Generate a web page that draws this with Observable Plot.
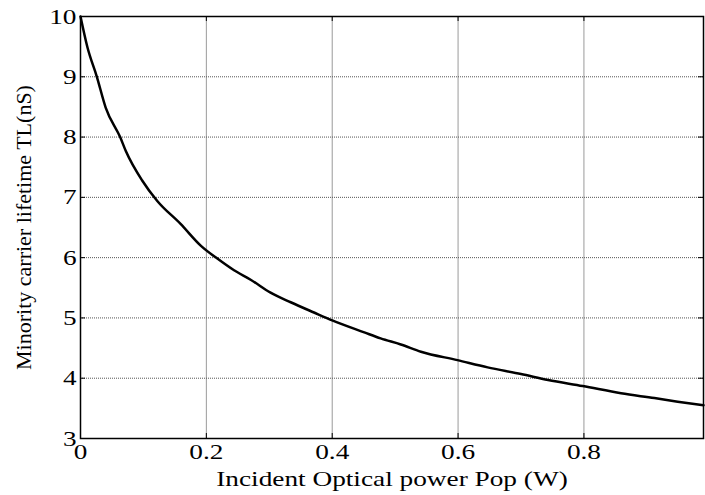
<!DOCTYPE html>
<html>
<head>
<meta charset="utf-8">
<script src="https://cdn.jsdelivr.net/npm/d3@7"></script>
<script src="https://cdn.jsdelivr.net/npm/@observablehq/plot@0.6"></script>
<style>
  html, body { margin: 0; padding: 0; background: white; }
</style>
</head>
<body>
<div id="chart"></div>
<script>
// Incident optical power (W) and minority carrier lifetime (nS)
const power = [0, 0.011, 0.026, 0.040, 0.063, 0.072, 0.098, 0.122, 0.159, 0.191, 0.218, 0.244, 0.271, 0.302, 0.334, 0.371, 0.400, 0.451, 0.477, 0.509, 0.541, 0.599, 0.647, 0.700, 0.743, 0.798, 0.859, 0.912, 0.949, 0.99];
const lifetime = [10, 9.49, 9.0, 8.49, 8.0, 7.77, 7.28, 6.94, 6.56, 6.20, 5.98, 5.79, 5.63, 5.42, 5.26, 5.09, 4.96, 4.76, 4.66, 4.56, 4.44, 4.30, 4.18, 4.07, 3.97, 3.87, 3.75, 3.67, 3.61, 3.55];

const xTicks = [0, 0.2, 0.4, 0.6, 0.8];
const yTicks = [3, 4, 5, 6, 7, 8, 9, 10];
const xLabel = "Incident Optical power Pop (W)";
const yLabel = "Minority carrier lifetime TL(nS)";

const data = power.map((p, i) => ({p, t: lifetime[i]}));

const W = 705, H = 495, mL = 80, mR = 2, mT = 16, mB = 57;
const innerW = W - mL - mR, innerH = H - mT - mB;
const tickLen = 5;
const font = "'Liberation Serif', 'Times New Roman', serif";
const fs = 22;

const chart = Plot.plot({
  width: W,
  height: H,
  marginLeft: mL,
  marginRight: mR,
  marginTop: mT,
  marginBottom: mB,
  style: {fontFamily: font, fontSize: fs + "px", color: "black", background: "white", overflow: "visible"},
  x: {domain: [0, 0.99], label: null},
  y: {domain: [3, 10], label: null},
  marks: [
    // grid
    Plot.gridX(xTicks.slice(1), {stroke: "#9a9a9a", strokeOpacity: 1, strokeWidth: 1}),
    Plot.gridY(yTicks.slice(1, -1), {stroke: "#555", strokeOpacity: 1, strokeWidth: 1, strokeDasharray: "1,1"}),
    // inward ticks on all four sides
    Plot.tickX(xTicks, {x: d => d, insetTop: innerH - tickLen, stroke: "black"}),
    Plot.tickX(xTicks, {x: d => d, insetBottom: innerH - tickLen, stroke: "black"}),
    Plot.tickY(yTicks, {y: d => d, insetRight: innerW - tickLen, stroke: "black"}),
    Plot.tickY(yTicks, {y: d => d, insetLeft: innerW - tickLen, stroke: "black"}),
    // curve
    Plot.line(data, {x: "p", y: "t", stroke: "black", strokeWidth: 2.5, curve: "monotone-x"}),
    Plot.frame({stroke: "black", strokeWidth: 1.5}),
    // tick labels
    Plot.axisX(xTicks, {tickSize: 0, tickPadding: 5, label: null, tickFormat: d => String(d), fontSize: fs, fontFamily: font, className: "wide"}),
    Plot.axisY(yTicks, {tickSize: 0, tickPadding: 4, label: null, tickFormat: d => String(d), fontSize: fs, fontFamily: font, className: "wide"}),
    // axis titles
    Plot.text([xLabel], {text: d => d, frameAnchor: "bottom", dy: 40, lineAnchor: "middle", textAnchor: "middle", fill: "black", fontSize: fs, fontFamily: font, className: "wide"}),
    Plot.text([yLabel], {text: d => d, frameAnchor: "left", dx: -57, rotate: -90, lineAnchor: "middle", textAnchor: "middle", fill: "black", fontSize: fs, fontFamily: font})
  ]
});

document.getElementById("chart").appendChild(chart);

// widen the horizontal labels slightly (wide serif lettering)
d3.select(chart).selectAll("g.wide text").each(function() {
  const len = this.getComputedTextLength();
  this.setAttribute("textLength", (len * 1.24).toFixed(1));
  this.setAttribute("lengthAdjust", "spacingAndGlyphs");
});
</script>
</body>
</html>
